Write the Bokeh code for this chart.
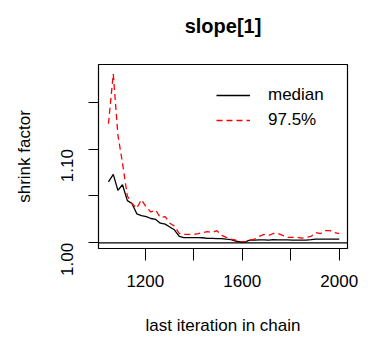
import math
from bokeh.plotting import figure
from bokeh.models import FixedTicker, Range1d, Legend, LegendItem, Span, Title
from bokeh.embed import file_html
from bokeh.resources import INLINE

iterations = [1048, 1068, 1087, 1106, 1126, 1145, 1165, 1184, 1204, 1223,
              1243, 1262, 1282, 1301, 1320, 1340, 1359, 1379, 1398, 1418,
              1437, 1456, 1476, 1495, 1515, 1534, 1554, 1573, 1592, 1612,
              1631, 1651, 1670, 1690, 1709, 1728, 1748, 1767, 1787, 1806,
              1826, 1845, 1864, 1884, 1903, 1923, 1942, 1962, 1981, 2000]
median = [1.065, 1.073, 1.056, 1.062, 1.045, 1.042, 1.031, 1.029, 1.028, 1.026,
          1.025, 1.021, 1.020, 1.017, 1.014, 1.007, 1.0057, 1.0057, 1.0057, 1.0057,
          1.0055, 1.0048, 1.0048, 1.0046, 1.0046, 1.0040, 1.0035, 1.002, 1.0012, 1.0012,
          1.003, 1.003, 1.0032, 1.0032, 1.0030, 1.0034, 1.0032, 1.0032, 1.0033, 1.003,
          1.003, 1.003, 1.003, 1.0035, 1.004, 1.004, 1.004, 1.004, 1.004, 1.004]
upper975 = [1.127, 1.180, 1.115, 1.085, 1.050, 1.042, 1.037, 1.046, 1.038, 1.033,
            1.035, 1.027, 1.028, 1.021, 1.018, 1.010, 1.009, 1.009, 1.009, 1.010,
            1.011, 1.012, 1.011, 1.013, 1.008, 1.006, 1.004, 1.003, 1.001, 1.001,
            1.003, 1.004, 1.007, 1.009, 1.008, 1.010, 1.010, 1.008, 1.006, 1.006,
            1.006, 1.005, 1.006, 1.007, 1.011, 1.010, 1.013, 1.013, 1.011, 1.010]
x_ticks = [1200, 1400, 1600, 1800, 2000]
x_tick_labels = {1200: "1200", 1400: "", 1600: "1600", 1800: "", 2000: "2000"}
y_ticks = [1.00, 1.05, 1.10, 1.15]
y_tick_labels = {1.00: "1.00", 1.05: "", 1.10: "1.10", 1.15: ""}
title_text = "slope[1]"
series_names = ["median", "97.5%"]

FONT = "Liberation Sans"

p = figure(width=368, height=341, output_backend="svg", toolbar_location=None,
           x_range=Range1d(1007, 2034), y_range=Range1d(0.99404, 1.1901),
           min_border_left=98, min_border_right=21, min_border_top=64,
           min_border_bottom=93)
p.background_fill_color = "white"
p.border_fill_color = "white"
p.outline_line_color = "black"
p.outline_line_width = 1.2
p.grid.visible = False

spacer = Title(text=" ", text_font=FONT, text_font_size="12px", standoff=0)
main_title = Title(text=title_text, align="center", text_font=FONT,
                   text_font_size="20px", text_font_style="bold",
                   text_color="black", standoff=24)
p.add_layout(spacer, "above")
p.add_layout(main_title, "above")

for ax in (p.xaxis[0], p.yaxis[0]):
    ax.axis_line_color = None
    ax.minor_tick_line_color = None
    ax.major_tick_in = 0
    ax.major_tick_line_color = "black"
    ax.major_label_text_font = FONT
    ax.major_label_text_font_size = "17px"
    ax.major_label_text_color = "black"
    ax.axis_label_text_font = FONT
    ax.axis_label_text_font_size = "17px"
    ax.axis_label_text_font_style = "normal"
    ax.axis_label_text_color = "black"

p.xaxis.ticker = FixedTicker(ticks=x_ticks)
p.xaxis.major_label_overrides = x_tick_labels
p.xaxis.major_tick_out = 12
p.xaxis.major_label_standoff = 14
p.xaxis.axis_label = "last iteration in chain"
p.xaxis.axis_label_standoff = 26

p.yaxis.ticker = FixedTicker(ticks=y_ticks)
p.yaxis.major_label_overrides = y_tick_labels
p.yaxis.major_tick_out = 10
p.yaxis.major_label_standoff = 21
p.yaxis.major_label_orientation = math.pi / 2
p.yaxis.axis_label = "shrink factor"
p.yaxis.axis_label_standoff = 19

p.add_layout(Span(location=1.0, dimension="width", line_color="black", line_width=1.3))

r_med = p.line(iterations, median, line_color="black", line_width=1.3)
r_up = p.line(iterations, upper975, line_color="red", line_width=1.3, line_dash="6 4")

legend = Legend(items=[LegendItem(label=series_names[0], renderers=[r_med]),
                       LegendItem(label=series_names[1], renderers=[r_up])],
                location=(118, 118), padding=0, margin=0, spacing=5,
                glyph_width=34, glyph_height=20, label_height=20,
                label_standoff=18, border_line_color=None,
                background_fill_alpha=0,
                label_text_font=FONT, label_text_font_size="17px",
                label_text_color="black")
p.add_layout(legend, "center")

open("out.html", "w").write(file_html(p, INLINE))
